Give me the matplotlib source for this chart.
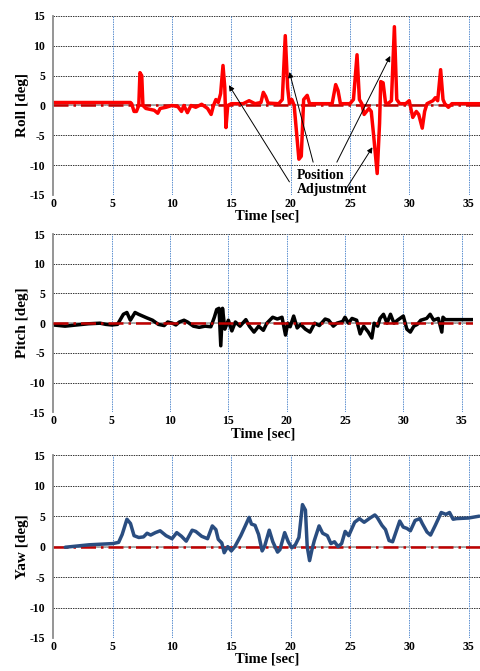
import numpy as np
import matplotlib.pyplot as plt

# Roll [deg] vs time [sec]
roll_t = [0, 6.5, 6.6, 6.8, 7.0, 7.2, 7.3, 7.45, 7.55, 7.8, 8.5, 8.8, 9.0, 9.5, 10.0, 10.5, 10.8,
          11.0, 11.3, 11.6, 12.0, 12.5, 13.0, 13.3, 13.5, 13.7, 13.9, 14.1, 14.3, 14.45, 14.55,
          14.7, 15.0, 16.0, 16.5, 17.0, 17.5, 17.7, 17.9, 18.1, 19.0, 19.3, 19.55, 19.75, 19.9,
          20.1, 20.3, 20.7, 20.9, 21.1, 21.4, 21.6, 23.5, 23.8, 24.0, 24.2, 25.0, 25.3, 25.6,
          25.8, 26.0, 26.2, 26.6, 26.8, 27.0, 27.3, 27.5, 27.6, 27.8, 28.0, 28.2, 28.5, 28.75,
          28.95, 29.2, 29.7, 30.0, 30.3, 30.6, 30.8, 31.1, 31.3, 31.5, 32.0, 32.2, 32.4, 32.65,
          32.85, 33.0, 33.3, 33.6, 36.0]
roll_v = [0.5, 0.5, 0.3, -1.0, -1.0, 0.0, 5.5, 5.0, 0.0, -0.5, -0.8, -1.3, -0.5, -0.3, 0.0, -0.2, -1.0,
          0.0, -1.2, 0.0, -0.3, 0.2, -0.5, -1.5, 0.0, 1.0, 0.5, 2.0, 6.7, 3.0, -3.7,
          0.0, 0.3, 0.3, 0.8, 0.3, 0.5, 2.2, 1.5, 0.4, 0.3, 1.0, 11.7, 3.0, 0.3,
          1.0, 0.0, -9.0, -8.5, 1.0, 1.7, 0.3, 0.3, 3.5, 2.5, 0.3, 0.3, 1.0, 8.5,
          1.0, 0.3, -1.5, -0.5, -1.0, -5.0, -11.4, -3.0, 4.0, 3.8, 0.5, 0.3, 0.8, 13.2,
          1.0, 0.3, 0.3, 0.8, -2.0, -1.0, -1.5, -3.8, -1.0, 0.3, 0.8, 1.3, 0.8, 6.0,
          1.0, 0.3, -0.3, 0.3, 0.3]

# Pitch [deg]
pitch_t = [0, 1, 2, 3, 4, 4.5, 5, 5.5, 6, 6.3, 6.6, 7, 7.3, 8, 8.5, 9, 9.5, 9.8, 10.2, 10.5, 10.8,
           11.2, 11.5, 12, 12.5, 13, 13.5, 13.8, 14.0, 14.2, 14.35, 14.5, 14.7, 15, 15.3, 15.6,
           16, 16.5, 16.8, 17.2, 17.6, 18, 18.3, 18.8, 19.2, 19.6, 19.9, 20.1, 20.3, 20.6, 20.9,
           21.2, 21.6, 22, 22.4, 22.8, 23.3, 23.6, 24, 24.3, 24.8, 25, 25.3, 25.6, 26, 26.3, 26.6,
           27, 27.3, 27.5, 27.8, 28, 28.3, 28.6, 28.9, 29.2, 29.5, 30, 30.3, 30.6, 30.9, 31.2,
           31.5, 32, 32.3, 32.6, 33, 33.3, 33.4, 33.6, 36]
pitch_v = [-0.3, -0.5, -0.3, -0.1, 0.0, -0.2, -0.3, -0.2, 1.5, 1.8, 0.5, 1.8, 1.5, 0.9, 0.5, -0.2, -0.4, 0.2, 0.0, -0.3, 0.2,
           0.5, 0.2, -0.5, -0.7, -0.5, -0.6, 1.0, 2.3, 2.5, -3.8, 2.5, -1.0, 0.5, -1.3, 0.2,
           -0.5, 0.6, -0.5, -1.5, -0.5, -1.2, 0.0, 1.0, 0.7, 1.0, -2.0, 0.0, -0.6, 1.2, -0.8,
           -0.2, -1.0, -1.5, 0.0, -0.4, 0.7, 0.5, -0.5, 0.0, 0.3, 1.0, 0.0, 0.8, 0.5, -1.8, -0.5,
           -1.5, -2.5, 0.0, -0.5, 0.8, 1.5, 0.0, 1.5, 0.0, 0.5, 1.2, -1.0, -1.5, -0.5, -0.2,
           0.5, 0.8, 1.5, 0.5, 0.8, -1.5, 1.0, 0.6, 0.6]

# Yaw [deg]
yaw_t = [1, 2, 3, 4, 5, 5.5, 5.8, 6.2, 6.5, 6.8, 7.2, 7.6, 7.9, 8.2, 8.6, 9, 9.5, 10, 10.4, 10.8,
         11.2, 11.7, 12, 12.5, 13, 13.4, 13.7, 13.9, 14.2, 14.4, 14.7, 15, 15.3, 15.8, 16.2, 16.5,
         16.7, 17, 17.3, 17.6, 17.8, 18.2, 18.5, 18.9, 19.1, 19.5, 19.8, 20.1, 20.4, 20.7, 21.0,
         21.25, 21.4, 21.6, 21.8, 22.0, 22.4, 22.7, 23.1, 23.4, 23.7, 24.0, 24.3, 24.6, 24.9,
         25.4, 25.8, 26.2, 26.7, 27.1, 27.3, 27.7, 28.0, 28.3, 28.6, 28.9, 29.2, 29.5, 29.8,
         30.1, 30.5, 30.9, 31.1, 31.5, 31.8, 32.2, 32.7, 33.1, 33.4, 33.7, 34, 35, 35.9]
yaw_v = [-0.1, 0.1, 0.3, 0.4, 0.5, 0.7, 2.0, 4.5, 3.8, 1.8, 1.5, 1.6, 2.2, 1.9, 2.3, 2.6, 1.8, 1.3, 2.3, 1.7,
         0.9, 2.7, 2.5, 1.7, 1.3, 3.4, 2.8, 1.2, 0.6, -1.0, 0.0, -0.7, 0.0, 1.8, 3.5, 4.8,
         3.7, 3.5, 2.0, -0.7, 0.0, 2.7, 0.8, -0.9, -0.5, 2.3, 0.8, -0.2, 0.3, 1.5, 6.9,
         6.0, 0.0, -2.3, -0.5, 1.0, 3.4, 2.2, 1.8, 0.5, 0.8, 0.0, 0.5, 2.5, 1.8,
         4.0, 4.6, 4.0, 4.7, 5.2, 4.8, 3.5, 2.8, 1.0, 0.8, 2.5, 4.2, 3.2, 3.0,
         2.6, 4.3, 4.6, 3.8, 2.4, 1.9, 3.5, 5.6, 5.3, 5.6, 4.5, 4.6, 4.7, 5.0]

y_ticks = [-15, -10, -5, 0, 5, 10, 15]
x_ticks = [0, 5, 10, 15, 20, 25, 30, 35]

serif = ['Liberation Serif', 'DejaVu Serif']
plt.rcParams['font.family'] = serif
plt.rcParams['font.weight'] = 'bold'

fig = plt.figure(figsize=(4.81, 6.71), dpi=100)
ax1 = fig.add_axes([0.111, 0.7094, 0.8877, 0.2668])
ax2 = fig.add_axes([0.111, 0.3855, 0.873, 0.2657])
ax3 = fig.add_axes([0.111, 0.0492, 0.8877, 0.2723])


def setup(ax, ylabel):
    ax.set_xlim(0, 36)
    ax.set_ylim(-15, 15)
    ax.set_yticks(y_ticks)
    ax.set_xticks(x_ticks)
    ax.set_yticklabels([str(v) for v in y_ticks])
    ax.tick_params(axis='x', labelsize=8.5, length=0, pad=2)
    ax.tick_params(axis='y', labelsize=8.5, length=0, pad=6)
    for lab in ax.get_xticklabels() + ax.get_yticklabels():
        lab.set_fontweight('bold')
    for s in ['top', 'right', 'bottom']:
        ax.spines[s].set_visible(False)
    ax.spines['left'].set_color('#8c8c8c')
    ax.spines['left'].set_linewidth(1.3)
    for v in y_ticks:
        ax.axhline(v, color='#333333', lw=0.7, ls=(0, (1.5, 1)), zorder=0.5)
    for v in x_ticks[1:]:
        ax.axvline(v, color='#5b8fd0', lw=0.7, ls=(0, (1.5, 1)), zorder=0.5)
    ax.axhline(0, color='#a6a6a6', lw=1.3, zorder=1)
    ax.set_ylabel(ylabel, fontsize=11, fontweight='bold', labelpad=0)
    ax.set_xlabel('Time [sec]', fontsize=10.5, fontweight='bold', labelpad=0)


line_kw = dict(lw=2.5, solid_joinstyle='round', solid_capstyle='round', zorder=2)

setup(ax1, 'Roll [deg]')
ax1.axhline(0, color='#c00000', lw=1.8, ls=(0, (6, 2, 1, 2)), zorder=1.5)
ax1.plot(roll_t, roll_v, color='#ff0000', **line_kw)

setup(ax2, 'Pitch [deg]')
ax2.plot(pitch_t, pitch_v, color='black', **line_kw)
ax2.axhline(0, color='#c00000', lw=1.8, ls=(0, (6, 2, 1, 2)), zorder=3)

setup(ax3, 'Yaw [deg]')
ax3.axhline(0, color='#c00000', lw=1.8, ls=(0, (6, 2, 1, 2)), zorder=1.5)
ax3.plot(yaw_t, yaw_v, color='#2a4d80', **line_kw)

# annotation on the roll panel
ax1.text(20.5, -12.9, 'Position\nAdjustment', fontsize=10, fontweight='bold',
         ha='left', va='center', linespacing=1.1, zorder=5, clip_on=False)
arrows = [((19.9, -12.8), (14.8, 3.4)),
          ((21.9, -9.5), (19.9, 5.6)),
          ((23.9, -9.5), (28.4, 8.3)),
          ((24.7, -13.9), (26.9, -7.0))]
for start, end in arrows:
    ax1.annotate('', xy=end, xytext=start,
                 arrowprops=dict(arrowstyle='-|>', color='black', lw=0.7,
                                 mutation_scale=8, shrinkA=0, shrinkB=0),
                 zorder=4, annotation_clip=False)

fig.savefig('out.png', dpi=100)
